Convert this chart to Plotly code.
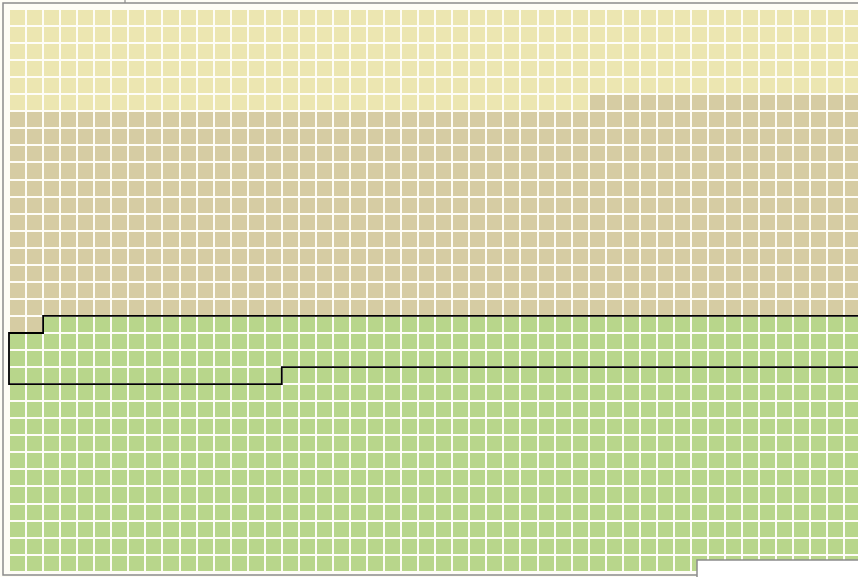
import plotly.graph_objects as go
import numpy as np

# grid size (columns x rows of cells)
n_cols = 50
n_rows = 33

# per column: first tan row and first green row
tan_start = [6] * 34 + [5] * 16
green_start = [19] * 2 + [18] * 48

# outlined zone per column (first row, last row)
zone_top = [19] * 2 + [18] * 48
zone_bottom = [21] * 16 + [20] * 34

class_names = ['yellow', 'tan', 'green']
class_colors = ['#ECE6B1', '#D6CCA3', '#B8D68B']

# build category matrix
z = np.zeros((n_rows, n_cols), dtype=int)
for c in range(n_cols):
    for r in range(n_rows):
        if r >= green_start[c]:
            z[r, c] = 2
        elif r >= tan_start[c]:
            z[r, c] = 1

colorscale = [
    [0.0, class_colors[0]], [0.333, class_colors[0]],
    [0.333, class_colors[1]], [0.666, class_colors[1]],
    [0.666, class_colors[2]], [1.0, class_colors[2]],
]

fig = go.Figure()
fig.add_trace(go.Heatmap(
    z=z,
    x=list(range(n_cols)),
    y=list(range(n_rows)),
    zmin=0, zmax=2,
    colorscale=colorscale,
    showscale=False,
    xgap=2, ygap=2,
    hoverinfo='skip',
))

# outline of the zone as a stair path
pts = []
for c in range(n_cols):
    pts.append((c - 0.5, zone_top[c] - 0.5))
    pts.append((c + 0.5, zone_top[c] - 0.5))
for c in reversed(range(n_cols)):
    pts.append((c + 0.5, zone_bottom[c] + 0.5))
    pts.append((c - 0.5, zone_bottom[c] + 0.5))
path = 'M ' + ' L '.join(f'{x},{y}' for x, y in pts) + ' Z'

fig.add_shape(type='path', path=path, xref='x', yref='y',
              line=dict(color='black', width=1.8), fillcolor='rgba(0,0,0,0)')

W, H = 858, 577
# outer frame
fig.add_shape(type='rect', xref='paper', yref='paper',
              x0=3 / W, x1=1.05, y0=(H - 575) / H, y1=(H - 3) / H,
              line=dict(color='#8c8c8c', width=1.5), fillcolor='rgba(0,0,0,0)')
# box in the lower right corner
fig.add_shape(type='rect', xref='paper', yref='paper',
              x0=697 / W, x1=1.05, y0=-0.05, y1=(H - 560) / H,
              line=dict(color='#8c8c8c', width=1.5), fillcolor='white')
# small tick at top
fig.add_shape(type='line', xref='paper', yref='paper',
              x0=125 / W, x1=125 / W, y0=(H - 3) / H, y1=1.0,
              line=dict(color='#8c8c8c', width=1.2))

fig.update_layout(
    width=W, height=H,
    margin=dict(l=0, r=0, t=0, b=0),
    plot_bgcolor='#FEFDF6',
    paper_bgcolor='white',
    showlegend=False,
    xaxis=dict(range=[-1.028, 49.296], visible=False, fixedrange=True),
    yaxis=dict(range=[32.81, -1.028], visible=False, fixedrange=True),
)

fig.write_html(
    "out.html",
    config={'displayModeBar': False},
    post_script="document.body.style.margin='0';document.body.style.overflow='hidden';",
)
